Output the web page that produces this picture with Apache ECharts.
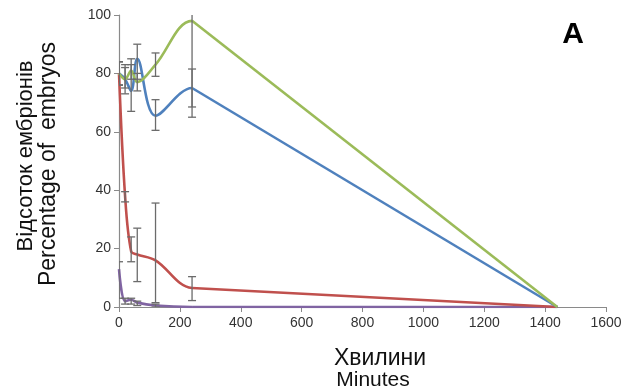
<!DOCTYPE html>
<html>
<head>
<meta charset="utf-8">
<script src="https://cdn.jsdelivr.net/npm/echarts@6/dist/echarts.min.js"></script>
<style>
  html, body { margin: 0; padding: 0; background: #fff; }
  #chart { width: 630px; height: 392px; }
</style>
</head>
<body>
<div id="chart"></div>
<script>
// time points (minutes)
const minutes = [0, 20, 40, 60, 120, 240, 1440];

// series values, % of embryos
const green = [80, 78, 81, 77, 83, 98, 0];
const blue = [80, 78, 74, 85, 65.5, 75, 0];
const red = [80, 38, 19, 18, 16, 6.5, 0];
const purple = [13, 2, 2.5, 1.5, 0.5, 0, 0];

// error bars (low / high), null = none
const greenLow = [76, 75, 78, 74, 79, 65, null];
const greenHigh = [84, 82, 83, 80, 87, 115, null];
const blueLow = [76, 73, 67, 78, 60.5, 68.5, null];
const blueHigh = [84, 83, 85, 90, 71, 81.5, null];
const redLow = [76, 36, 15.5, 8.7, 1.5, 2.2, null];
const redHigh = [84, 39.5, 24, 27, 35.6, 10.4, null];
const purpleLow = [3, 1, 1, 0.5, 0, null, null];
const purpleHigh = [15.5, 3, 3, 2, 1, null, null];

const xTicks = [0, 200, 400, 600, 800, 1000, 1200, 1400, 1600];
const yTicks = [0, 20, 40, 60, 80, 100];

const colors = ['#8064A2', '#C0504D', '#4F81BD', '#9BBB59'];
const FONT = '"Liberation Sans", Arial, sans-serif';
const SPLIT = 240; // after this the lines are drawn straight

function pairs(vals) {
    return minutes.map((m, i) => [m, vals[i]]);
}

function bars(low, high) {
    const out = [];
    minutes.forEach((m, i) => {
        if (low[i] != null && high[i] != null) out.push([m, low[i], high[i]]);
    });
    return out;
}

function renderBar(params, api) {
    const x = api.value(0);
    const lo = api.coord([x, api.value(1)]);
    const hi = api.coord([x, api.value(2)]);
    const w = 4;
    const st = { stroke: '#6b6b6b', lineWidth: 1.3 };
    return {
        type: 'group',
        children: [
            { type: 'line', shape: { x1: lo[0], y1: lo[1], x2: hi[0], y2: hi[1] }, style: st },
            { type: 'line', shape: { x1: lo[0] - w, y1: lo[1], x2: lo[0] + w, y2: lo[1] }, style: st },
            { type: 'line', shape: { x1: hi[0] - w, y1: hi[1], x2: hi[0] + w, y2: hi[1] }, style: st }
        ]
    };
}

// smooth curve over all points, colour comes from the visualMap (tail hidden)
function lineSeries(vals) {
    return {
        type: 'line',
        data: pairs(vals),
        smooth: 0.35,
        symbol: 'none',
        lineStyle: { width: 2.6 },
        z: 2
    };
}

// straight tail 240 -> 1440
function tailSeries(vals, color) {
    return {
        type: 'line',
        data: pairs(vals).filter(p => p[0] >= SPLIT),
        symbol: 'none',
        lineStyle: { color: color, width: 2.6 },
        z: 2
    };
}

function barSeries(low, high) {
    return {
        type: 'custom',
        data: bars(low, high),
        renderItem: renderBar,
        clip: true,
        encode: { x: 0, y: [1, 2] },
        z: 3
    };
}

const chart = echarts.init(document.getElementById('chart'));

const lineData = [purple, red, blue, green];

const series = [];
lineData.forEach((v) => series.push(lineSeries(v)));
lineData.forEach((v, i) => series.push(tailSeries(v, colors[i])));
series.push(barSeries(purpleLow, purpleHigh));
series.push(barSeries(redLow, redHigh));
series.push(barSeries(blueLow, blueHigh));
series.push(barSeries(greenLow, greenHigh));

const visualMaps = colors.map((c, i) => ({
    type: 'piecewise',
    show: false,
    seriesIndex: i,
    dimension: 0,
    pieces: [
        { gte: -100, lte: SPLIT, color: c },
        { gt: SPLIT, lte: 2000, color: 'rgba(255,255,255,0)' }
    ]
}));

const option = {
    animation: false,
    backgroundColor: '#fff',
    grid: { left: 119, right: 24, top: 15, bottom: 85 },
    visualMap: visualMaps,
    xAxis: {
        type: 'value',
        min: xTicks[0],
        max: xTicks[xTicks.length - 1],
        interval: 200,
        axisLine: { lineStyle: { color: '#8a8a8a', width: 1.2 } },
        axisTick: { show: true, length: 5, lineStyle: { color: '#8a8a8a' } },
        axisLabel: { color: '#333', fontSize: 14, fontFamily: FONT, margin: 9, formatter: v => String(v) },
        splitLine: { show: false }
    },
    yAxis: {
        type: 'value',
        min: yTicks[0],
        max: yTicks[yTicks.length - 1],
        interval: 20,
        axisLine: { show: true, lineStyle: { color: '#8a8a8a', width: 1.2 } },
        axisTick: { show: true, length: 5, lineStyle: { color: '#8a8a8a' } },
        axisLabel: { color: '#333', fontSize: 14, fontFamily: FONT, margin: 8 },
        splitLine: { show: false }
    },
    graphic: [
        {
            type: 'text', x: 26, y: 156, rotation: Math.PI / 2,
            style: { text: 'Відсоток ембріонів', font: '22px ' + FONT, fill: '#111', align: 'center', verticalAlign: 'middle' }
        },
        {
            type: 'text', x: 49, y: 164, rotation: Math.PI / 2,
            style: { text: 'Percentage of  embryos', font: '23px ' + FONT, fill: '#111', align: 'center', verticalAlign: 'middle' }
        },
        {
            type: 'text', x: 380, y: 359,
            style: { text: 'Хвилини', font: '23px ' + FONT, fill: '#111', align: 'center', verticalAlign: 'middle' }
        },
        {
            type: 'text', x: 373, y: 380,
            style: { text: 'Minutes', font: '21px ' + FONT, fill: '#111', align: 'center', verticalAlign: 'middle' }
        },
        {
            type: 'text', x: 573, y: 35,
            style: { text: 'A', font: 'bold 30px ' + FONT, fill: '#000', align: 'center', verticalAlign: 'middle' }
        }
    ],
    series: series
};

chart.setOption(option);
</script>
</body>
</html>
